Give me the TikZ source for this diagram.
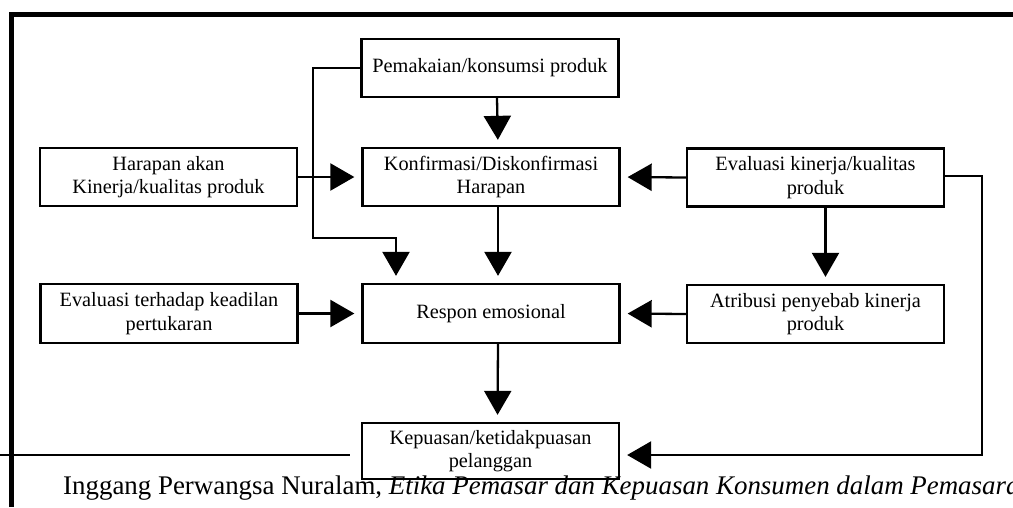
\documentclass[tikz,border=0pt]{standalone}
\usepackage{fontspec}
\setmainfont{Liberation Serif}
\usetikzlibrary{arrows.meta}
\begin{document}
\begin{tikzpicture}[x=1pt,y=-1pt,
  box/.style={draw,line width=2.3pt,minimum width=257pt,minimum height=58pt,inner sep=0pt,
    align=center,font=\fontsize{20.3}{23.5}\selectfont},
  arr/.style={line width=2.3pt,-{Triangle[length=24pt,width=27pt]},shorten >=7pt},
  conn/.style={line width=2.3pt}]
\useasboundingbox (0,0) rectangle (1013,507);
\clip (0,0) rectangle (1013,507);
% frame
\draw[line width=4.5pt] (11.5,507) -- (11.5,14.5) -- (1013,14.5);
\draw[line width=1.5pt] (0,455) -- (350,455);
% boxes
\node[box] (pem) at (490,68) {Pemakaian/konsumsi produk};
\node[box] (konf) at (491,177) {Konfirmasi/Diskonfirmasi\\Harapan};
\node[box,minimum height=59pt] (resp) at (491,313.5) {Respon emosional};
\node[box,minimum height=56pt] (kep) at (490.5,451) {Kepuasan/ketidakpuasan\\pelanggan};
\node[box] (har) at (168.5,177) {Harapan akan\\Kinerja/kualitas produk};
\node[box,minimum height=59pt] (evk) at (169,313.5) {Evaluasi terhadap keadilan\\pertukaran};
\node[box] (evkin) at (815.5,177.5) {Evaluasi kinerja/kualitas\\produk};
\node[box] (atr) at (815.5,314) {Atribusi penyebab kinerja\\produk};
% connectors
\coordinate (c1) at (313,238);
\coordinate (c2) at (982,455);
\draw[arr] ([xshift=7pt]pem.south) -- ([xshift=7pt]konf.north);
\draw[arr] ([xshift=7pt]konf.south) -- ([xshift=7pt]resp.north);
\draw[arr] ([xshift=7pt]resp.south) -- ([xshift=7pt]kep.north);
\draw[arr] (har.east) -- (konf.west);
\draw[arr] (evk.east) -- (resp.west);
\draw[arr] (evkin.west) -- (konf.east);
\draw[arr] (atr.west) -- (resp.east);
\draw[arr] ([xshift=10pt]evkin.south) -- ([xshift=10pt]atr.north);
\draw[arr] (pem.west) -| (c1) -| ([xshift=-95pt]resp.north);
\draw[arr] ([yshift=1.5pt]evkin.east) -| (c2) -- (kep.east |- c2);
% bottom text
\node[anchor=base west,inner sep=0pt,font=\fontsize{26.9}{31}\selectfont] (cap) at (63,494)
  {Inggang Perwangsa Nuralam, \textit{Etika Pemasar dan Kepuasan Konsumen dalam Pemasara}};
\end{tikzpicture}
\end{document}
